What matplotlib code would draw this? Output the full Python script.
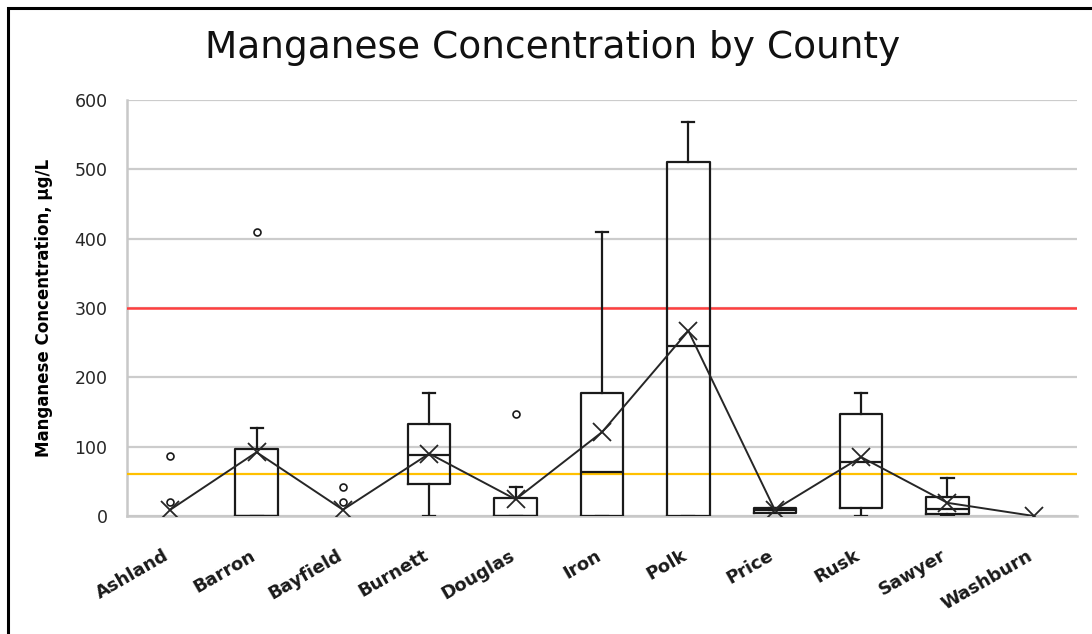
import matplotlib
matplotlib.use("Agg")
import matplotlib.pyplot as plt
from matplotlib.patches import Rectangle
from matplotlib.transforms import ScaledTranslation

# Box-plot summary per county (ug/L)
counties = ["Ashland", "Barron", "Bayfield", "Burnett", "Douglas", "Iron",
            "Polk", "Price", "Rusk", "Sawyer", "Washburn"]
q1 = [0, 0, 0, 46, 0, 0, 0, 4, 11, 3, 0]
median = [0, 0, 0, 88, 0, 63, 245, 8, 78, 10, 0]
q3 = [0, 96, 0, 133, 26, 178, 511, 11, 147, 28, 0]
whisker_low = [0, 0, 0, 0, 0, 0, 0, 4, 0, 0, 0]
whisker_high = [0, 127, 0, 178, 42, 410, 568, 12, 177, 55, 0]
means = [9, 92, 9, 90, 24, 121, 267, 9, 85, 19, 0]
outliers = [[86, 20], [410], [42, 20], [], [147], [], [], [], [], [], []]

health_limit = 300   # red reference line
aesthetic_limit = 60  # yellow reference line

fig = plt.figure(figsize=(10.92, 6.34), dpi=100)
ax = fig.add_axes([0.1163, 0.1861, 0.8700, 0.6562])

# Washburn has only a mean marker, no box
n_box = 10
stats = []
for i in range(n_box):
    stats.append({
        "q1": q1[i], "med": median[i], "q3": q3[i],
        "whislo": whisker_low[i], "whishi": whisker_high[i],
        "fliers": outliers[i], "label": counties[i],
    })
# counties whose box collapses to zero get no visible box
box_w = [0.49 if q3[i] > 0 else 0.0 for i in range(n_box)]
cap_w = [0.14 if q3[i] > 0 else 0.0 for i in range(n_box)]

line_kw = dict(color="#1a1a1a", linewidth=1.6)
ax.bxp(stats, positions=list(range(n_box)), widths=box_w, capwidths=cap_w,
       showfliers=True, patch_artist=False,
       boxprops=line_kw, medianprops=line_kw, whiskerprops=line_kw,
       capprops=line_kw,
       flierprops=dict(marker="o", markersize=5, markerfacecolor="white",
                       markeredgecolor="#1a1a1a", markeredgewidth=1.2),
       zorder=4)

# mean markers joined by a line
ax.plot(range(len(counties)), means, color="#262626", linewidth=1.4,
        marker="x", markersize=13, markeredgewidth=1.3, zorder=5)

ax.axhline(health_limit, color="#ff3f3f", linewidth=1.8, zorder=3)
ax.axhline(aesthetic_limit, color="#ffc000", linewidth=1.6, zorder=3)

ax.set_xlim(-0.5, len(counties) - 0.5)
ax.set_ylim(0, 600)
ax.set_yticks(range(0, 601, 100))
ax.yaxis.grid(True, color="#cccccc", linewidth=1.6, zorder=0)
ax.set_axisbelow(True)

for side in ["top", "right"]:
    ax.spines[side].set_visible(False)
ax.spines["left"].set_color("#c8c8c8")
ax.spines["left"].set_linewidth(1.8)
ax.spines["bottom"].set_color("#c8c8c8")
ax.spines["bottom"].set_linewidth(1.8)
ax.tick_params(length=0)
ax.tick_params(axis="y", labelsize=12.5, pad=14, labelcolor="#262626")

ax.set_xticks(range(len(counties)))
ax.set_xticklabels(counties, rotation=30, ha="right", rotation_mode="anchor",
                   fontsize=13, fontweight="bold", color="#1a1a1a")
ax.tick_params(axis="x", pad=22)
shift = ScaledTranslation(-7 / 100, 0, fig.dpi_scale_trans)
for lbl in ax.get_xticklabels():
    lbl.set_transform(lbl.get_transform() + shift)

ax.set_ylabel("Manganese Concentration, \u00b5g/L", fontsize=12,
              fontweight="bold", labelpad=14)
ax.yaxis.set_label_coords(-0.078, 0.5)

fig.text(0.506, 0.925, "Manganese Concentration by County", ha="center",
         va="center", fontsize=27, color="#111111")

# chart frame (only the left and top edges fall inside the picture)
fig.patches.append(Rectangle((8 / 1092, -0.05), 1.2, 0.05 + 626 / 634,
                             transform=fig.transFigure, fill=False,
                             edgecolor="black", linewidth=2.2))

fig.savefig("out.png", dpi=100)
